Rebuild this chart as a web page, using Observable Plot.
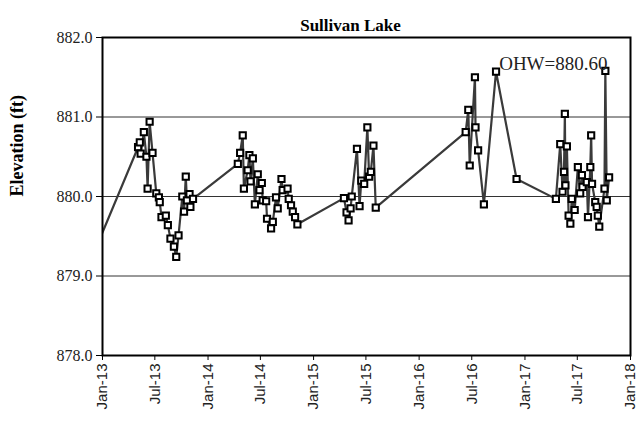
<!DOCTYPE html>
<html>
<head>
<meta charset="utf-8">
<script src="https://cdn.jsdelivr.net/npm/d3@7"></script>
<script src="https://cdn.jsdelivr.net/npm/@observablehq/plot@0.6"></script>
<style>
  html, body { margin: 0; padding: 0; background: white; }
  svg { display: block; }
</style>
</head>
<body>
<div id="chart"></div>
<script>
const title = "Sullivan Lake";
const yLabel = "Elevation (ft)";
const annotation = "OHW=880.60";

const dates = [
  "2012-10-15",
  "2013-05-04","2013-05-10","2013-05-13","2013-05-24","2013-06-02","2013-06-06","2013-06-13","2013-06-23",
  "2013-07-06","2013-07-15","2013-07-18","2013-07-24","2013-08-08","2013-08-15","2013-08-24","2013-09-05",
  "2013-09-13","2013-09-21","2013-10-04","2013-10-10","2013-10-16","2013-10-20","2013-10-29","2013-11-01","2013-11-10",
  "2014-04-14","2014-04-22","2014-05-01","2014-05-05","2014-05-18","2014-05-24","2014-05-28","2014-06-05",
  "2014-06-12","2014-06-22","2014-06-28","2014-07-06","2014-07-09","2014-07-21","2014-07-24","2014-08-07",
  "2014-08-13","2014-08-24","2014-08-30","2014-09-12","2014-09-16","2014-10-03","2014-10-07","2014-10-15",
  "2014-10-21","2014-10-29","2014-11-06",
  "2015-04-16","2015-04-25","2015-05-02","2015-05-09","2015-05-13","2015-05-31","2015-06-09","2015-06-15",
  "2015-06-25","2015-07-06","2015-07-12","2015-07-18","2015-07-27","2015-08-04",
  "2016-06-10","2016-06-19","2016-06-24","2016-07-12","2016-07-14","2016-07-23","2016-08-12","2016-09-23","2016-12-03",
  "2017-04-18","2017-05-03","2017-05-11","2017-05-16","2017-05-19","2017-05-21","2017-05-26","2017-06-01",
  "2017-06-07","2017-06-12","2017-06-22","2017-07-03","2017-07-11","2017-07-17","2017-07-19","2017-08-03",
  "2017-08-07","2017-08-15","2017-08-18","2017-08-21","2017-09-01","2017-09-06","2017-09-10","2017-09-15",
  "2017-10-03","2017-10-06","2017-10-11","2017-10-19"
];
const elevations = [
  878.87,
  880.62,880.68,880.54,880.81,880.50,880.10,880.94,880.55,
  880.04,879.99,879.93,879.74,879.76,879.64,879.47,879.37,
  879.24,879.51,880.00,879.81,880.25,879.95,880.03,879.87,879.97,
  880.41,880.55,880.77,880.10,880.33,880.52,880.19,880.48,
  879.90,880.28,880.08,880.17,879.95,879.94,879.72,879.60,
  879.68,879.99,879.85,880.22,880.08,880.10,879.97,879.89,
  879.81,879.74,879.65,
  879.98,879.80,879.70,879.85,880.00,880.60,879.88,880.20,
  880.16,880.87,880.25,880.31,880.64,879.86,
  880.81,881.09,880.39,881.50,880.87,880.58,879.90,881.57,880.22,
  879.97,880.66,880.06,880.31,881.04,880.14,880.63,879.76,
  879.66,879.97,879.83,880.37,880.04,880.27,880.12,880.18,
  879.74,880.37,880.77,880.16,879.93,879.87,879.76,879.62,
  880.10,881.58,879.95,880.24
];

const yTicks = [878, 879, 880, 881, 882];
const gridLines = [879, 880, 881];
const xTicks = [
  "2013-01-01","2013-07-01","2014-01-01","2014-07-01","2015-01-01","2015-07-01",
  "2016-01-01","2016-07-01","2017-01-01","2017-07-01","2018-01-01"
];

const data = dates.map((d, i) => ({date: new Date(d), elev: elevations[i]}));
const serif = "'Liberation Serif', 'Times New Roman', serif";
const sans = "'Liberation Sans', Arial, sans-serif";

const chart = Plot.plot({
  width: 639,
  height: 431,
  marginLeft: 102,
  marginRight: 9,
  marginTop: 37,
  marginBottom: 76,
  style: {background: "white", color: "#222"},
  x: {type: "utc", domain: [new Date(xTicks[0]), new Date(xTicks[xTicks.length - 1])]},
  y: {domain: [yTicks[0], yTicks[yTicks.length - 1]]},
  marks: [
    Plot.ruleY(gridLines, {stroke: "#333", strokeWidth: 1}),
    Plot.line(data, {x: "date", y: "elev", stroke: "#3a3a3a", strokeWidth: 2.2, clip: true}),
    Plot.dot(data, {x: "date", y: "elev", symbol: "square", r: 3.5, stroke: "#000", fill: "white", strokeWidth: 2, clip: true}),
    Plot.frame({stroke: "#000", strokeWidth: 2}),
    Plot.axisY({ticks: yTicks, tickFormat: d => d.toFixed(1), tickSize: 6, tickPadding: 4,
      fontSize: 16, fontFamily: serif, label: null, stroke: "#000"}),
    Plot.axisX({ticks: xTicks.map(d => new Date(d)), tickFormat: d3.utcFormat("%b-%y"),
      tickRotate: -90, tickSize: 5, tickPadding: 3, fontSize: 15, fontFamily: sans, label: null, stroke: "#000"}),
    Plot.text([title], {frameAnchor: "top", dx: -16, dy: -19, fontSize: 17, fontWeight: "bold", fontFamily: serif, fill: "#000"}),
    Plot.text([yLabel], {frameAnchor: "left", dx: -85, rotate: -90, fontSize: 18, fontWeight: "bold", fontFamily: serif, fill: "#000"}),
    Plot.text([annotation], {frameAnchor: "top-right", dx: -23, dy: 19, textAnchor: "end", fontSize: 19, fontFamily: serif, fill: "#222"})
  ]
});
document.getElementById("chart").appendChild(chart);
</script>
</body>
</html>
